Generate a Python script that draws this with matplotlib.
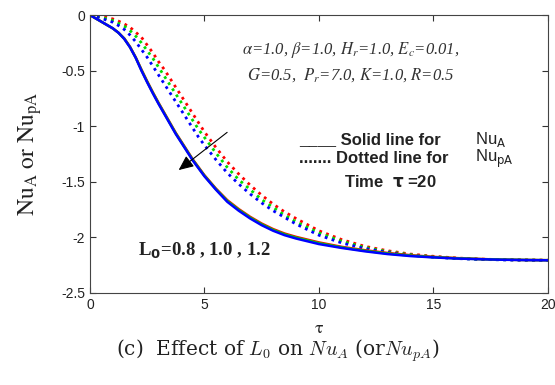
import matplotlib
matplotlib.use("Agg")
import matplotlib.pyplot as plt

# tau grids
tau_solid = [0, 0.25, 0.5, 0.75, 1, 1.25, 1.5, 1.75, 2, 2.25, 2.5, 2.75, 3, 3.25, 3.5, 3.75,
             4, 4.25, 4.5, 4.75, 5, 5.5, 6, 6.5, 7, 7.5, 8, 8.5, 9,
             10, 11, 12, 13, 14, 15, 16, 17, 18, 19, 20]
tau_dot = [0, 0.5, 1, 1.25, 1.5, 1.75, 2, 2.25, 2.5, 2.75, 3, 3.25, 3.5, 3.75,
           4, 4.25, 4.5, 4.75, 5, 5.5, 6, 6.5, 7, 7.5, 8, 8.5, 9,
           10, 11, 12, 13, 14, 15, 16, 17, 18, 19, 20]

# solid lines (Nu_A), L0 = 0.8, 1.0, 1.2
nu_a_08 = [0, -0.03, -0.06, -0.09, -0.12, -0.16, -0.21, -0.285, -0.38, -0.49, -0.595, -0.695,
           -0.79, -0.88, -0.97, -1.06, -1.14, -1.22, -1.30, -1.37, -1.44,
           -1.56, -1.665, -1.745, -1.815, -1.875, -1.925, -1.965, -1.995,
           -2.045, -2.085, -2.115, -2.14, -2.16, -2.175, -2.186, -2.194, -2.2, -2.203, -2.205]
nu_a_10 = [0, -0.03, -0.06, -0.09, -0.12, -0.16, -0.213, -0.288, -0.383, -0.495, -0.6, -0.7,
           -0.795, -0.885, -0.975, -1.065, -1.145, -1.225, -1.305, -1.375, -1.445,
           -1.565, -1.672, -1.752, -1.822, -1.882, -1.932, -1.972, -2.002,
           -2.052, -2.09, -2.12, -2.145, -2.164, -2.178, -2.188, -2.195, -2.2, -2.203, -2.205]
nu_a_12 = [0, -0.03, -0.06, -0.09, -0.12, -0.16, -0.215, -0.29, -0.385, -0.50, -0.605, -0.705,
           -0.80, -0.89, -0.98, -1.07, -1.15, -1.23, -1.31, -1.38, -1.45,
           -1.57, -1.68, -1.76, -1.83, -1.89, -1.94, -1.98, -2.01,
           -2.06, -2.095, -2.125, -2.15, -2.168, -2.18, -2.19, -2.196, -2.201, -2.204, -2.206]

# dotted lines (Nu_pA)
nu_pa_08 = [0, -0.01, -0.035, -0.055, -0.08, -0.11, -0.155, -0.20, -0.27, -0.34, -0.42, -0.49,
            -0.57, -0.65, -0.73, -0.81, -0.89, -0.97, -1.05,
            -1.19, -1.32, -1.43, -1.53, -1.62, -1.70, -1.77, -1.83,
            -1.94, -2.02, -2.08, -2.12, -2.15, -2.17, -2.185, -2.195, -2.2, -2.203, -2.205]
nu_pa_10 = [0, -0.02, -0.05, -0.075, -0.10, -0.14, -0.19, -0.25, -0.32, -0.39, -0.47, -0.55,
            -0.63, -0.71, -0.79, -0.87, -0.95, -1.03, -1.10,
            -1.24, -1.37, -1.48, -1.57, -1.66, -1.73, -1.80, -1.86,
            -1.96, -2.035, -2.09, -2.128, -2.155, -2.174, -2.188, -2.197, -2.201, -2.204, -2.206]
nu_pa_12 = [0, -0.03, -0.065, -0.095, -0.13, -0.18, -0.24, -0.31, -0.38, -0.46, -0.54, -0.62,
            -0.70, -0.78, -0.86, -0.94, -1.02, -1.10, -1.17,
            -1.30, -1.42, -1.52, -1.61, -1.69, -1.76, -1.82, -1.88,
            -1.98, -2.05, -2.10, -2.135, -2.16, -2.178, -2.19, -2.198, -2.202, -2.205, -2.207]

colors = ["red", "#00dd00", "blue"]

fig = plt.figure(figsize=(5.55, 3.85), dpi=100)
ax = fig.add_axes([0.162, 0.239, 0.825, 0.722])

for y, c in zip([nu_pa_08, nu_pa_10, nu_pa_12], colors):
    ax.plot(tau_dot, y, color=c, linestyle=(0, (1, 1.6)), linewidth=2)
for y, c in zip([nu_a_08, nu_a_10, nu_a_12], colors):
    ax.plot(tau_solid, y, color=c, linewidth=1.8)

ax.set_xlim(0, 20)
ax.set_ylim(-2.5, 0)
ax.set_xticks([0, 5, 10, 15, 20])
ax.set_yticks([0, -0.5, -1, -1.5, -2, -2.5])
ax.set_yticklabels(["0", "-0.5", "-1", "-1.5", "-2", "-2.5"])
ax.tick_params(direction="in", top=True, right=True, length=4, colors="#333333",
               labelsize=10, labelcolor="#222222")
for lab in ax.get_xticklabels() + ax.get_yticklabels():
    lab.set_family("Liberation Sans")
for s in ax.spines.values():
    s.set_color("#444444")

ax.set_xlabel(r"$\mathrm{\tau}$", fontsize=13, math_fontfamily="stix", color="#222222",
              labelpad=5)
ax.set_ylabel(r"$\mathrm{Nu_A\ or\ Nu_{pA}}$", fontsize=17, math_fontfamily="stix",
              color="#222222", labelpad=12)

# parameter text
ax.text(6.65, -0.315, r"$\alpha$=1.0, $\beta$=1.0, $H_r$=1.0, $E_c$=0.01,",
        family="Liberation Serif", style="italic", fontsize=12, math_fontfamily="stix",
        va="center", color="#333333")
ax.text(6.85, -0.54, r"$G$=0.5,  $P_r$=7.0, $K$=1.0, $R$=0.5",
        family="Liberation Serif", style="italic", fontsize=12, math_fontfamily="stix",
        va="center", color="#333333")

# legend text
ax.text(9.13, -1.12, "____ Solid line for", family="Liberation Sans", weight="bold",
        fontsize=12, va="center", color="#222222")
ax.text(9.13, -1.29, "....... Dotted line for", family="Liberation Sans", weight="bold",
        fontsize=12, va="center", color="#222222")
ax.text(16.8, -1.12, r"Nu$_\mathrm{A}$", family="Liberation Sans", fontsize=12,
        va="center", color="#222222")
ax.text(16.8, -1.29, r"Nu$_\mathrm{pA}$", family="Liberation Sans", fontsize=12,
        va="center", color="#222222")
ax.text(11.1, -1.50, r"Time  $\mathbf{\tau}$ =20", family="Liberation Sans", weight="bold",
        fontsize=12, va="center", color="#222222", math_fontfamily="dejavusans")

ax.text(2.09, -2.12, r"L$_\mathbf{0}$=0.8 , 1.0 , 1.2", family="Liberation Serif",
        weight="bold", fontsize=13.5, va="center", color="#222222")

ax.annotate("", xy=(3.78, -1.41), xytext=(6.09, -1.04),
            arrowprops=dict(arrowstyle="-|>,head_length=0.9,head_width=0.4",
                            color="black", lw=0.8))

fig.text(0.5, 0.09, r"(c)  Effect of $L_0$ on $Nu_A$ (or$Nu_{pA}$)", ha="center",
         va="center", family="DejaVu Serif", fontsize=14.5, math_fontfamily="cm",
         color="#222222")

fig.savefig("out.png", dpi=100, facecolor="white")
